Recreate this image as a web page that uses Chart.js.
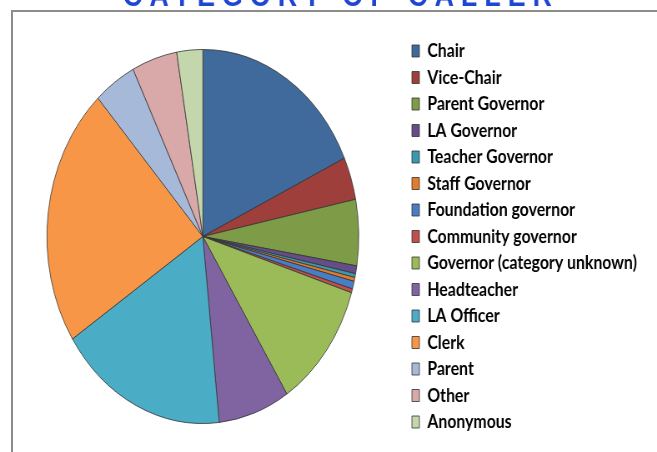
<!DOCTYPE html>
<html>
<head>
<meta charset="utf-8">
<script src="https://cdn.jsdelivr.net/npm/chart.js@4"></script>
<style>
  html, body { margin: 0; padding: 0; background: #fff; overflow: hidden; }
  #frame { position: absolute; left: 11px; top: 10px; width: 700px; height: 500px;
           border-top: 2px solid #8c8c8c; border-left: 2px solid #8c8c8c; }
  #wrap { position: absolute; left: 0; top: 0; width: 788px; height: 452px;
          transform: scaleX(0.8338); transform-origin: 0 0; }
</style>
</head>
<body>
<div id="frame"></div>
<div id="wrap"><canvas id="myChart" width="788" height="452"></canvas></div>
<script>
// categories and counts
var categories = ['Chair', 'Vice-Chair', 'Parent Governor', 'LA Governor', 'Teacher Governor',
    'Staff Governor', 'Foundation governor', 'Community governor', 'Governor (category unknown)',
    'Headteacher', 'LA Officer', 'Clerk', 'Parent', 'Other', 'Anonymous'];
var counts = [54, 11, 17, 2, 1, 1, 2, 1, 33, 22, 52, 67, 13, 14, 8];
var colours = ['#3F6A9B', '#9E3F3C', '#7E9B48', '#664D88', '#3A99B1', '#E17C2C', '#4A7EC4',
    '#C0504D', '#9BBB59', '#8064A2', '#4BACC6', '#F79646', '#A7B9D8', '#D9A8A8', '#C3D6AC'];
var chartTitle = 'CATEGORY OF CALLER';

// title sits mostly above the top edge, only its lower part shows
var titlePlugin = {
    id: 'cutTitle',
    afterDraw: function(chart) {
        var ctx = chart.ctx;
        ctx.save();
        ctx.font = 'bold 32px "Liberation Sans", Arial, sans-serif';
        ctx.letterSpacing = '8.5px';
        ctx.fillStyle = '#1F45D3';
        ctx.textAlign = 'center';
        ctx.textBaseline = 'alphabetic';
        ctx.fillText(chartTitle, 409, 6);
        ctx.restore();
    }
};

var ctx = document.getElementById('myChart').getContext('2d');
var myChart = new Chart(ctx, {
    type: 'pie',
    data: {
        labels: categories,
        datasets: [{
            data: counts,
            backgroundColor: colours,
            borderColor: '#333333',
            borderWidth: 0.8,
            radius: 187
        }]
    },
    options: {
        responsive: false,
        animation: false,
        layout: { padding: { left: 0, right: 0, top: 21, bottom: 0 } },
        plugins: {
            title: { display: false },
            tooltip: { enabled: false },
            legend: {
                position: 'right',
                align: 'center',
                labels: {
                    boxWidth: 9,
                    boxHeight: 12,
                    padding: 7.5,
                    color: '#000000',
                    font: { family: 'Lato, "Open Sans", sans-serif', size: 19, weight: 'bold' }
                }
            }
        }
    },
    plugins: [titlePlugin]
});

// put the legend boxes where they sit in the picture, keep the pie centred on the left
var shift = myChart.legend.left - (494 - 7.5);
myChart.options.layout.padding.right = shift;
myChart.update();
</script>
</body>
</html>
